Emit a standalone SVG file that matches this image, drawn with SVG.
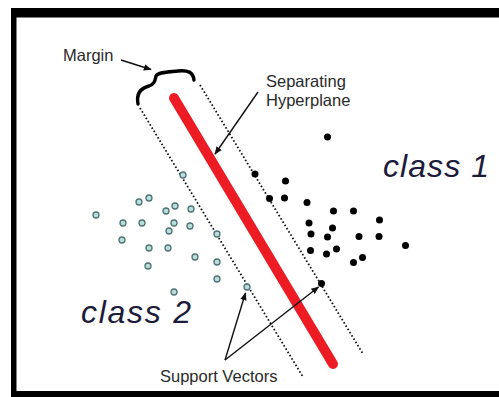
<svg xmlns="http://www.w3.org/2000/svg" width="499" height="397" viewBox="0 0 499 397">
<style>
.lbl{font-family:"Liberation Sans",Arial,sans-serif;font-size:16.5px;fill:#2a2a2a}
.cls{font-family:"Liberation Sans",Arial,sans-serif;font-style:italic;font-size:32px;fill:#1c1c3a}
.c2{fill:#b9dede;stroke:#4f7373;stroke-width:1.3}
.c1{fill:#000}
.dot{fill:none;stroke:#111;stroke-width:1.8;stroke-dasharray:1.6,2.2}
.arr{fill:none;stroke:#111;stroke-width:1.4;marker-end:url(#ah)}
</style>
<defs>
<marker id="ah" viewBox="0 0 10 10" refX="9" refY="5" markerWidth="8" markerHeight="8" markerUnits="userSpaceOnUse" orient="auto">
<path d="M0,1 L10,5 L0,9 Z" fill="#111"/>
</marker>
</defs>
<rect x="0" y="0" width="499" height="397" fill="#fff"/>
<rect id="frame" x="11" y="8" width="488" height="389" fill="#000"/>
<rect x="16.5" y="17.5" width="483" height="373.5" fill="#fff"/>

<g id="margin-lines">
<line class="dot" x1="140" y1="108" x2="303" y2="377"/>
<line class="dot" x1="200" y1="85" x2="363" y2="354"/>
</g>
<g id="hyperplane">
<line x1="174" y1="98" x2="333" y2="364" stroke="#ed1c24" stroke-width="10" stroke-linecap="round"/>
</g>
<g id="brace">
<path d="M138,104 C136,93 141,88 149,86 C155,84 155,80 156,76 C158,72 168,72 178,71 C188,70 193,72 194,80" fill="none" stroke="#000" stroke-width="3.4" stroke-linecap="round" stroke-linejoin="round"/>
</g>

<g id="class2">
<circle class="c2" cx="183" cy="175" r="3"/>
<circle class="c2" cx="139" cy="202" r="3"/>
<circle class="c2" cx="149" cy="198" r="3"/>
<circle class="c2" cx="166" cy="211" r="3"/>
<circle class="c2" cx="175" cy="206" r="3"/>
<circle class="c2" cx="191" cy="209" r="3"/>
<circle class="c2" cx="96" cy="215" r="3"/>
<circle class="c2" cx="123" cy="223" r="3"/>
<circle class="c2" cx="142" cy="223" r="3"/>
<circle class="c2" cx="174" cy="223" r="3"/>
<circle class="c2" cx="190" cy="226" r="3"/>
<circle class="c2" cx="169" cy="231" r="3"/>
<circle class="c2" cx="217" cy="234" r="3"/>
<circle class="c2" cx="122" cy="240" r="3"/>
<circle class="c2" cx="149" cy="248" r="3"/>
<circle class="c2" cx="168" cy="248" r="3"/>
<circle class="c2" cx="195" cy="257" r="3"/>
<circle class="c2" cx="217" cy="262" r="3"/>
<circle class="c2" cx="148" cy="266" r="3"/>
<circle class="c2" cx="217" cy="279" r="3"/>
<circle class="c2" cx="174" cy="292" r="3"/>
<circle class="c2" cx="247" cy="287" r="3"/>
</g>

<g id="class1">
<circle class="c1" cx="327.5" cy="137" r="3.5"/>
<circle class="c1" cx="255" cy="174" r="3.5"/>
<circle class="c1" cx="285.5" cy="181" r="3.5"/>
<circle class="c1" cx="269.5" cy="198.5" r="3.5"/>
<circle class="c1" cx="284.5" cy="198" r="3.5"/>
<circle class="c1" cx="307" cy="202.5" r="3.5"/>
<circle class="c1" cx="333.5" cy="211" r="3.5"/>
<circle class="c1" cx="353.5" cy="211" r="3.5"/>
<circle class="c1" cx="309" cy="223" r="3.5"/>
<circle class="c1" cx="332.5" cy="228" r="3.5"/>
<circle class="c1" cx="379.5" cy="220" r="3.5"/>
<circle class="c1" cx="311" cy="234" r="3.5"/>
<circle class="c1" cx="327.5" cy="237" r="3.5"/>
<circle class="c1" cx="359" cy="236.5" r="3.5"/>
<circle class="c1" cx="379" cy="236.5" r="3.5"/>
<circle class="c1" cx="405.5" cy="245.5" r="3.5"/>
<circle class="c1" cx="310.5" cy="250.5" r="3.5"/>
<circle class="c1" cx="326.5" cy="254" r="3.5"/>
<circle class="c1" cx="336.5" cy="249" r="3.5"/>
<circle class="c1" cx="353.5" cy="262.5" r="3.5"/>
<circle class="c1" cx="362.5" cy="257.5" r="3.5"/>
<circle class="c1" cx="321.5" cy="283.5" r="3.5"/>
</g>

<g id="connectors">
<line class="arr" x1="121" y1="60" x2="151" y2="69.5"/>
<line class="arr" x1="258" y1="92" x2="215" y2="154"/>
<line class="arr" x1="225" y1="360" x2="245.5" y2="293"/>
<line class="arr" x1="225" y1="360" x2="318.5" y2="287"/>
</g>

<g id="labels">
<text class="lbl" x="63" y="61">Margin</text>
<text class="lbl" x="266" y="87">Separating</text>
<text class="lbl" x="266" y="106">Hyperplane</text>
<text class="lbl" x="160" y="382">Support Vectors</text>
<text class="cls" x="383" y="177" textLength="106" lengthAdjust="spacing">class 1</text>
<text class="cls" x="81" y="323" textLength="110" lengthAdjust="spacing">class 2</text>
</g>
</svg>
